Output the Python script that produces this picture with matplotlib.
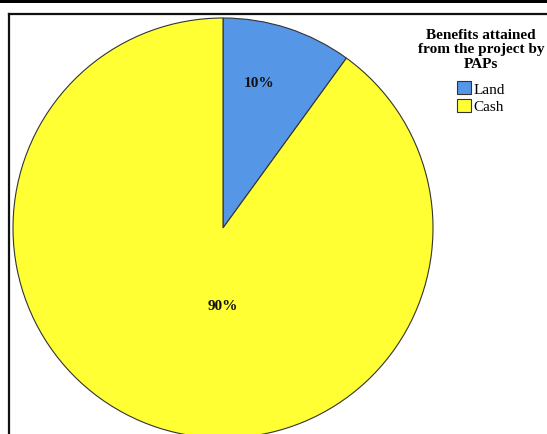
import matplotlib
matplotlib.use('Agg')
from matplotlib import pyplot as plt
from matplotlib.patches import Rectangle

categories = ['Land', 'Cash']
values = [10, 90]
colors = ['#5596E6', '#FFFF33']
legend_title = 'Benefits attained\nfrom the project by\nPAPs'

# label spots (data coords, pie radius 1)
label_pos = [(0.17, 0.695), (0.0, -0.37)]

W, H = 547, 435
fig = plt.figure(figsize=(W / 100, H / 100), dpi=100)
plt.rcParams['font.family'] = ['Liberation Serif', 'DejaVu Serif']

# pie centre (223, 229) px, radius 210 px
cx, cy, r = 223, 229, 210
ax = fig.add_axes([(cx - r) / W, (H - cy - r) / H, 2 * r / W, 2 * r / H])
wedges, texts, autotexts = ax.pie(values, colors=colors, startangle=90, counterclock=False,
                                  autopct='%1.0f%%', radius=1,
                                  wedgeprops=dict(edgecolor='#333333', linewidth=0.8),
                                  textprops=dict(fontsize=11, fontweight='bold', color='#111111'))
for t, p in zip(autotexts, label_pos):
    t.set_position(p)
ax.set_xlim(-1, 1)
ax.set_ylim(-1, 1)
ax.set_aspect('equal')
ax.axis('off')

# frame lines
fig.patches.append(Rectangle((0, 1 - 3.5 / H), 1, 3.5 / H, transform=fig.transFigure,
                             facecolor='black', edgecolor='none'))
fig.add_artist(plt.Line2D([8.5 / W, 8.5 / W], [0, 1 - 15 / H], transform=fig.transFigure,
                          color='#111111', lw=1.6))
fig.add_artist(plt.Line2D([8.5 / W, 1], [1 - 15 / H, 1 - 15 / H], transform=fig.transFigure,
                          color='#111111', lw=1.6))

leg = fig.legend(wedges, categories, title=legend_title, loc='upper center',
                 bbox_to_anchor=(481 / W, 1 - 29 / H), frameon=False,
                 fontsize=11, handlelength=0.95, handleheight=0.95, handletextpad=0.15,
                 labelspacing=0.2, borderpad=0, borderaxespad=0,
                 title_fontproperties=dict(family='Liberation Serif', weight='bold', size=11))
leg.get_title().set_multialignment('center')
leg.get_title().set_linespacing(1.13)
leg._legend_box.align = 'center'
leg._legend_box.sep = 8
for h in leg.legend_handles:
    h.set_edgecolor('#333333')
    h.set_linewidth(0.8)

fig.savefig('out.png', dpi=100)
